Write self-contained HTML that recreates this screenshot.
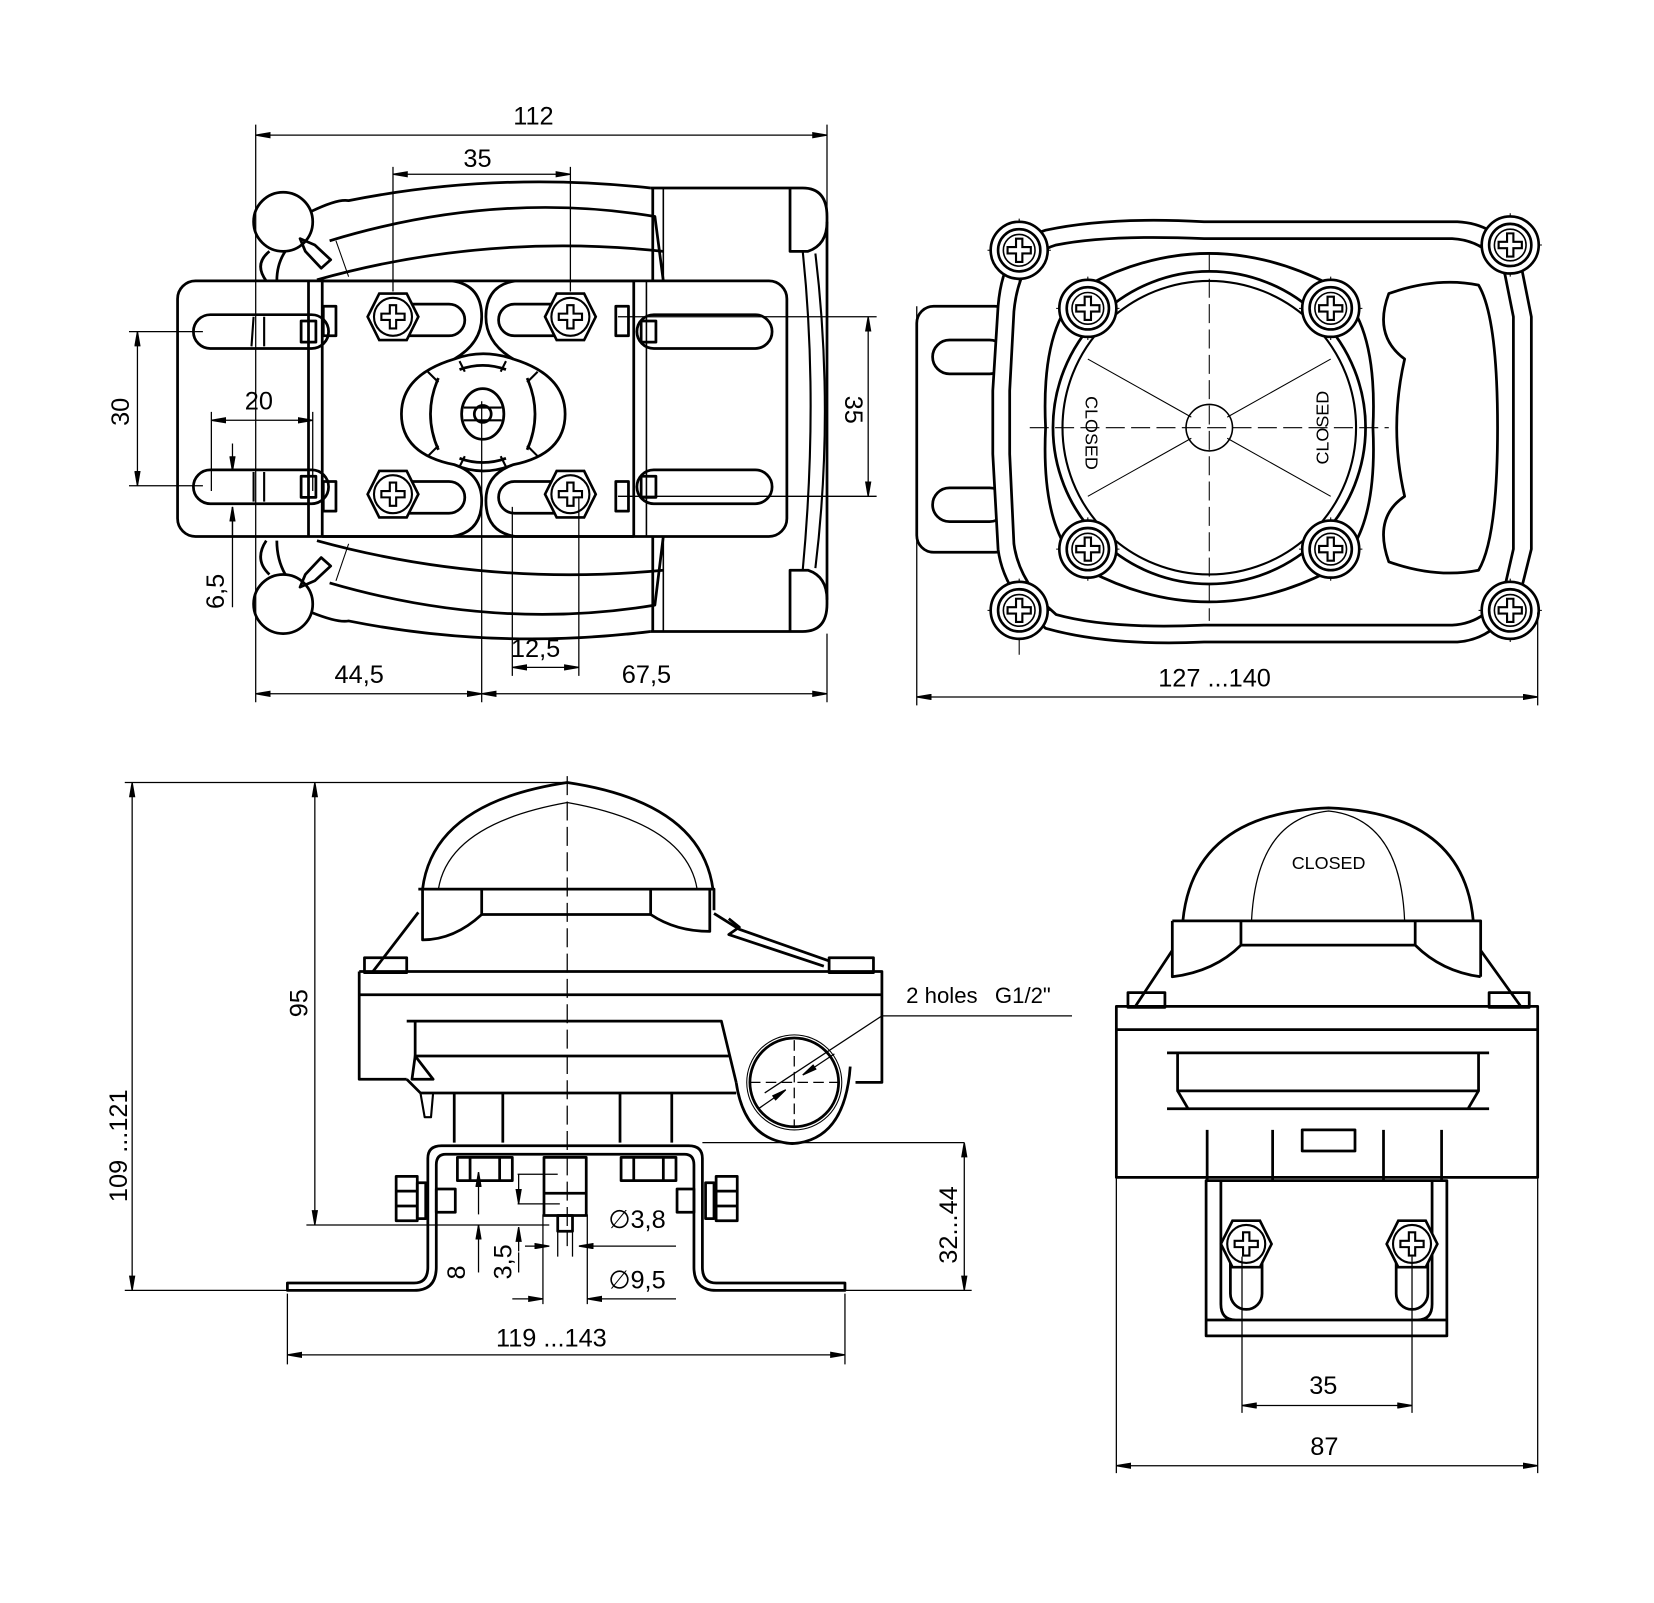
<!DOCTYPE html>
<html><head><meta charset="utf-8"><style>
html,body{margin:0;padding:0;background:#fff;}
svg{display:block}
text{font-family:"Liberation Sans Narrow","Liberation Sans",sans-serif;fill:#000}
</style></head><body>
<svg width="1654" height="1603" viewBox="0 0 1566 1518" xmlns="http://www.w3.org/2000/svg">
<defs>
<marker id="a" viewBox="0 0 14 6" refX="14" refY="3" markerWidth="14" markerHeight="6" markerUnits="userSpaceOnUse" orient="auto-start-reverse"><path d="M0,0 L14,2.4 L14,3.6 L0,6Z" fill="#000"/></marker>
<g id="scr"><path d="M-13,-22 L13,-22 L24,0 L13,22 L-13,22 L-24,0Z" fill="#fff" stroke="#000" stroke-width="2.5"/><circle r="18" fill="none" stroke="#000" stroke-width="2"/><path d="M-3,-11 h6 v8 h8 v6 h-8 v8 h-6 v-8 h-8 v-6 h8z" fill="#fff" stroke="#000" stroke-width="2"/></g>
<g id="scr2"><circle r="27" fill="#fff" stroke="#000" stroke-width="2.5"/><circle r="20" fill="none" stroke="#000" stroke-width="2.5"/><circle r="15" fill="none" stroke="#000" stroke-width="1.5"/><path d="M-3,-11 h6 v8 h8 v6 h-8 v8 h-6 v-8 h-8 v-6 h8z" fill="#fff" stroke="#000" stroke-width="2"/></g>
</defs>

<g fill="none" stroke="#000" stroke-width="2.6" stroke-linejoin="round">
<!-- ========== TOP LEFT VIEW ========== -->
<path d="M616,178 H760 Q783,178 783,205 V572 Q783,598 760,598 H616"/>
<path d="M748,178 V238 H765 Q783,232 783,210"/>
<path d="M748,598 V540 H765 Q783,546 783,568"/>
<path d="M618,178 V598" />
<path d="M628,178 V598" stroke-width="1.5"/>
<path d="M760,238 Q775,380 760,540" stroke-width="2"/>
<path d="M772,240 Q790,390 772,538" stroke-width="2"/>
<path d="M295,200 Q320,188 330,190 Q470,162 616,178"/>
<path d="M312,228 Q470,180 620,205 L628,266"/>
<path d="M300,265 Q460,220 628,238"/>
<path d="M295,580 Q320,590 330,588 Q470,616 616,598"/>
<path d="M312,552 Q470,598 620,573 L628,508"/>
<path d="M300,512 Q460,556 628,540"/>
<path d="M318,228 L330,262" stroke-width="1"/>
<path d="M318,550 L330,515" stroke-width="1"/>
<circle cx="268" cy="210" r="28"/>
<circle cx="268" cy="572" r="28"/>
<path d="M284,226 L298,232 L313,246 L304,254 L289,238 Z"/>
<path d="M284,556 L298,550 L313,536 L304,528 L289,544 Z"/>
<path d="M255,238 Q240,250 252,266 M270,238 Q262,250 262,266"/>
<path d="M255,544 Q240,530 252,512 M270,544 Q262,530 262,512"/>
<!-- plate -->
<rect x="168" y="266" width="577" height="242" rx="17" fill="#fff"/>
<path d="M292,266 V508 M305,266 V508" />
<!-- middle lobes -->
<path d="M305,266 H428 Q456,270 456,300 Q456,325 430,340"/>
<path d="M305,508 H428 Q456,504 456,474 Q456,449 430,440"/>
<path d="M600,266 H488 Q460,270 460,300 Q460,325 486,340"/>
<path d="M600,508 H488 Q460,504 460,474 Q460,449 486,440"/>
<path d="M612,266 V508" stroke-width="1.5"/>
<path d="M600,266 V508"/>
<rect x="183" y="298" width="128" height="32" rx="16"/>
<rect x="183" y="445" width="128" height="32" rx="16"/>
<rect x="603" y="298" width="128" height="32" rx="16"/>
<rect x="603" y="445" width="128" height="32" rx="16"/>
<path d="M240,300 L238,328 M250,300 L250,328 M240,447 L240,475 M250,447 L250,475" stroke-width="2"/>
<rect x="285" y="304" width="14" height="20"/><rect x="285" y="451" width="14" height="20"/>
<rect x="607" y="304" width="14" height="20"/><rect x="607" y="451" width="14" height="20"/>
<rect x="372" y="288" width="68" height="30" rx="15"/>
<rect x="472" y="288" width="68" height="30" rx="15"/>
<rect x="372" y="456" width="68" height="30" rx="15"/>
<rect x="472" y="456" width="68" height="30" rx="15"/>
<rect x="306" y="290" width="12" height="28"/><rect x="306" y="456" width="12" height="28"/>
<rect x="583" y="290" width="12" height="28"/><rect x="583" y="456" width="12" height="28"/>
<!-- center boss -->
<path d="M430,340 Q457,330 486,340 Q535,355 535,392 Q535,430 486,440 Q457,452 430,440 Q380,430 380,392 Q380,355 430,340 Z"/>
<path d="M415,358 Q400,392 415,426 M499,358 Q514,392 499,426 M435,350 Q457,342 479,350 M435,434 Q457,442 479,434"/>
<path d="M405,352 L415,362 M509,352 L499,362 M405,432 L415,422 M509,432 L499,422 M435,342 L440,352 M479,342 L474,352 M435,442 L440,432 M479,442 L474,432" stroke-width="2"/>
<ellipse cx="457" cy="392" rx="20" ry="24"/>
<circle cx="457" cy="392" r="8"/>
<path d="M439,386 H475 M439,398 H475" stroke-width="2"/>
</g>
<use href="#scr" x="372" y="300"/><use href="#scr" x="540" y="300"/>
<use href="#scr" x="372" y="468"/><use href="#scr" x="540" y="468"/>

<g fill="none" stroke="#000" stroke-width="2.6" stroke-linejoin="round">
<!-- ========== TOP RIGHT VIEW ========== -->
<rect x="868" y="290" width="90" height="233" rx="16" fill="#fff"/>
<rect x="883" y="322" width="70" height="32" rx="16"/>
<rect x="883" y="462" width="70" height="32" rx="16"/>
<path d="M990,218 Q1050,205 1140,210 L1380,210 Q1420,212 1440,250 L1450,300 V520 L1440,560 Q1420,605 1380,608 H1140 Q1050,612 990,595 Q950,560 945,520 L940,430 V370 L945,290 Q950,230 990,218 Z" fill="#fff"/>
<path d="M1000,232 Q1050,222 1140,226 L1375,226 Q1410,228 1425,260 L1433,300 V520 L1425,555 Q1410,590 1375,592 H1140 Q1050,596 1000,582 Q965,552 960,515 L956,430 V370 L960,295 Q965,242 1000,232 Z"/>
<path d="M1030,270 Q1144,210 1260,270 Q1305,300 1300,405 Q1305,510 1260,540 Q1144,600 1030,540 Q985,510 990,405 Q985,300 1030,270 Z"/>
<circle cx="1145" cy="405" r="148"/>
<circle cx="1145" cy="405" r="139" stroke-width="2"/>
<circle cx="1145" cy="405" r="22" stroke-width="1.5"/>
<path d="M1315,278 Q1360,262 1400,270 Q1418,300 1418,405 Q1418,510 1400,540 Q1360,548 1315,532 Q1300,490 1330,470 Q1315,405 1330,340 Q1300,318 1315,278 Z"/>
</g>
<g stroke="#000" stroke-width="1" fill="none">
<path d="M975,405 H1315" stroke-dasharray="18,6"/>
<path d="M1145,240 V588" stroke-dasharray="18,6"/>
<path d="M1030,340 L1128,395 M1030,470 L1128,415 M1260,340 L1162,395 M1260,470 L1162,415"/>
<path d="M1000,292 H1060 M1030,262 V322 M1230,292 H1290 M1260,262 V322 M1000,520 H1060 M1030,490 V550 M1230,520 H1290 M1260,490 V550"/>
<path d="M935,237 H995 M965,207 V267 M1400,232 H1460 M1430,202 V262 M935,578 H995 M965,548 V620 M1400,578 H1460 M1430,548 V608"/>
</g>
<use href="#scr2" x="965" y="237"/><use href="#scr2" x="1430" y="232"/>
<use href="#scr2" x="965" y="578"/><use href="#scr2" x="1430" y="578"/>
<use href="#scr2" x="1030" y="292"/><use href="#scr2" x="1260" y="292"/>
<use href="#scr2" x="1030" y="520"/><use href="#scr2" x="1260" y="520"/>
<text x="0" y="0" font-size="17" transform="translate(1028,410) rotate(90)" text-anchor="middle">CLOSED</text>
<text x="0" y="0" font-size="17" transform="translate(1258,405) rotate(-90)" text-anchor="middle">CLOSED</text>

<g fill="none" stroke="#000" stroke-width="2.6" stroke-linejoin="round">
<!-- ========== BOTTOM LEFT VIEW ========== -->
<path d="M400,842 Q410,760 537,741 Q664,760 675,842"/>
<path d="M415,842 Q425,780 537,760" stroke-width="1.2"/>
<path d="M660,842 Q650,780 537,760" stroke-width="1.2"/>
<path d="M396,842 H676 V862"/>
<path d="M456,842 V866 H616 V842"/>
<path d="M400,842 V890 Q430,890 456,866"/>
<path d="M672,842 V882 Q640,882 616,866"/>
<path d="M396,864 L353,920"/>
<path d="M676,865 L700,880 L785,910"/>
<path d="M690,870 L700,878 L690,885 L780,915"/>
<rect x="345" y="907" width="40" height="14"/>
<rect x="785" y="907" width="42" height="14"/>
<path d="M340,920 H835 V1025 H810"/>
<path d="M340,920 V1022 H385"/>
<path d="M340,942 H835"/>
<path d="M385,967 H683 L697,1025"/>
<path d="M393,967 V1000 H690"/>
<path d="M393,1000 L410,1022 H390 Z"/>
<path d="M385,1022 L398,1035 H697"/>
<path d="M398,1035 L402,1058 H408 L410,1035" stroke-width="2"/>
<path d="M697,1025 Q705,1080 750,1083 Q800,1080 805,1010" />
<circle cx="752" cy="1025" r="42"/>
<circle cx="752" cy="1025" r="45" stroke-width="1"/>
<path d="M430,1035 V1082 M476,1035 V1082 M587,1035 V1082 M636,1035 V1082"/>
<path d="M272,1215 H392 Q405,1215 405,1200 V1097 Q405,1085 418,1085 H652 Q665,1085 665,1097 V1200 Q665,1215 678,1215 H800 V1222 H678 Q657,1222 657,1200 V1103 Q657,1093 648,1093 H422 Q413,1093 413,1103 V1200 Q413,1222 392,1222 H272 Z"/>
<path d="M665,1082 H913" stroke-width="1.2"/>
<rect x="433" y="1096" width="52" height="22"/><path d="M445,1096 V1118 M473,1096 V1118"/>
<rect x="588" y="1096" width="52" height="22"/><path d="M600,1096 V1118 M628,1096 V1118"/>
<rect x="515" y="1096" width="40" height="55"/><path d="M515,1130 H555"/>
<rect x="528" y="1151" width="14" height="15"/>
<rect x="375" y="1114" width="20" height="42"/><path d="M375,1128 H395 M375,1142 H395"/>
<rect x="395" y="1120" width="8" height="34"/>
<rect x="413" y="1126" width="18" height="22"/>
<rect x="678" y="1114" width="20" height="42"/><path d="M678,1128 H698 M678,1142 H698"/>
<rect x="668" y="1120" width="8" height="34"/>
<rect x="641" y="1126" width="16" height="22"/>

<!-- ========== BOTTOM RIGHT VIEW ========== -->
<path d="M1120,872 Q1130,770 1258,765 Q1386,770 1395,872"/>
<path d="M1185,872 Q1190,775 1258,768 Q1326,775 1330,872" stroke-width="1.2"/>
<path d="M1110,872 H1402 V925"/>
<path d="M1175,872 V895 H1340 V872"/>
<path d="M1110,872 V925 Q1150,920 1175,895"/>
<path d="M1402,925 Q1365,920 1340,895"/>
<path d="M1110,900 L1075,953 M1402,900 L1440,953"/>
<rect x="1068" y="940" width="35" height="14"/><rect x="1410" y="940" width="38" height="14"/>
<rect x="1057" y="953" width="399" height="162"/>
<path d="M1057,975 H1456"/>
<path d="M1105,997 H1410 M1115,997 V1033 H1400 V997 M1115,1033 L1125,1050 H1105 M1400,1033 L1390,1050 H1410 M1105,1050 H1410"/>
<path d="M1143,1070 V1118 M1365,1070 V1118 M1205,1070 V1118 M1310,1070 V1118"/>
<rect x="1233" y="1070" width="50" height="20"/>
<rect x="1142" y="1118" width="228" height="147" fill="#fff"/>
<path d="M1142,1250 H1370 M1156,1118 V1235 Q1156,1250 1170,1250 H1342 Q1356,1250 1356,1235 V1118"/>
<rect x="1165" y="1170" width="30" height="70" rx="15"/>
<rect x="1322" y="1170" width="30" height="70" rx="15"/>
</g>
<use href="#scr" x="1180" y="1178"/><use href="#scr" x="1337" y="1178"/>

<!-- ========== DIMENSIONS ========== -->
<g stroke="#000" stroke-width="1.2" fill="none">
<path d="M242,118 V665 M783,118 V200 M783,600 V665 M372,158 V276 M540,158 V276 M456,380 V665 M485,480 V640 M548,470 V640"/>
<path d="M122,314 H192 M122,460 H192 M200,390 V465 M296,390 V465 M585,300 H830 M585,470 H830 M220,480 V575"/>
<path d="M868,290 V668 M1456,580 V668"/>
<path d="M242,128 H783" marker-start="url(#a)" marker-end="url(#a)"/>
<path d="M372,165 H540" marker-start="url(#a)" marker-end="url(#a)"/>
<path d="M130,314 V460" marker-start="url(#a)" marker-end="url(#a)"/>
<path d="M200,398 H296" marker-start="url(#a)" marker-end="url(#a)"/>
<path d="M220,420 V446" marker-end="url(#a)"/>
<path d="M220,507 V480" marker-end="url(#a)"/>
<path d="M822,300 V470" marker-start="url(#a)" marker-end="url(#a)"/>
<path d="M242,657 H456" marker-start="url(#a)" marker-end="url(#a)"/>
<path d="M456,657 H783" marker-start="url(#a)" marker-end="url(#a)"/>
<path d="M485,632 H548" marker-start="url(#a)" marker-end="url(#a)"/>
<path d="M868,660 H1456" marker-start="url(#a)" marker-end="url(#a)"/>
<path d="M118,741 H540 M290,1160 H520 M118,1222 H272 M800,1222 H920 M272,1225 V1292 M800,1225 V1292" />
<path d="M537,735 V1180" stroke-dasharray="18,6"/>
<path d="M125,741 V1222" marker-start="url(#a)" marker-end="url(#a)"/>
<path d="M298,741 V1160" marker-start="url(#a)" marker-end="url(#a)"/>
<path d="M913,1082 V1222" marker-start="url(#a)" marker-end="url(#a)"/>
<path d="M272,1283 H800" marker-start="url(#a)" marker-end="url(#a)"/>
<path d="M453,1110 V1150" marker-start="url(#a)"/>
<path d="M453,1205 V1160" marker-end="url(#a)"/>
<path d="M490,1112 H528 M490,1140 H530"/>
<path d="M491,1112 V1140" marker-end="url(#a)"/>
<path d="M491,1185 V1162" marker-end="url(#a)"/>
<path d="M491,1205 V1186"/>
<path d="M497,1180 H520" marker-end="url(#a)"/>
<path d="M640,1180 H548" marker-end="url(#a)"/>
<path d="M514,1150 V1235 M556,1150 V1235 M528,1165 V1190 M542,1165 V1190"/>
<path d="M485,1230 H514" marker-end="url(#a)"/>
<path d="M640,1230 H556" marker-end="url(#a)"/>
<path d="M724,1035 L835,962 H1015"/>
<path d="M760,1018 L790,998" marker-start="url(#a)"/>
<path d="M744,1032 L718,1050" marker-start="url(#a)"/>
<path d="M710,1025 H795 M752,985 V1068" stroke-dasharray="10,5"/>
<path d="M1057,1115 V1395 M1456,1115 V1395 M1176,1190 V1338 M1337,1190 V1338"/>
<path d="M1176,1331 H1337" marker-start="url(#a)" marker-end="url(#a)"/>
<path d="M1057,1388 H1456" marker-start="url(#a)" marker-end="url(#a)"/>
</g>

<g font-size="24">
<text x="505" y="118" text-anchor="middle">112</text>
<text x="452" y="158" text-anchor="middle">35</text>
<text x="245" y="388" text-anchor="middle">20</text>
<text transform="translate(122,390) rotate(-90)" text-anchor="middle">30</text>
<text transform="translate(212,560) rotate(-90)" text-anchor="middle">6,5</text>
<text transform="translate(800,388) rotate(90)" text-anchor="middle">35</text>
<text x="340" y="647" text-anchor="middle">44,5</text>
<text x="612" y="647" text-anchor="middle">67,5</text>
<text x="507" y="622" text-anchor="middle">12,5</text>
<text x="1150" y="650" text-anchor="middle">127 ...140</text>
<text transform="translate(291,950) rotate(-90)" text-anchor="middle">95</text>
<text transform="translate(120,1085) rotate(-90)" text-anchor="middle">109 ...121</text>
<text transform="translate(906,1160) rotate(-90)" text-anchor="middle">32...44</text>
<text x="522" y="1275" text-anchor="middle">119  ...143</text>
<text transform="translate(440,1205) rotate(-90)" text-anchor="middle">8</text>
<text transform="translate(484,1195) rotate(-90)" text-anchor="middle">3,5</text>
<text x="576" y="1163">∅3,8</text>
<text x="576" y="1220">∅9,5</text>
<text x="858" y="950" font-size="21">2 holes</text>
<text x="942" y="950" font-size="21">G1/2"</text>
<text x="1253" y="1320" text-anchor="middle">35</text>
<text x="1254" y="1378" text-anchor="middle">87</text>
<text x="1258" y="823" text-anchor="middle" font-size="17">CLOSED</text>
</g>
</svg>
</body></html>
